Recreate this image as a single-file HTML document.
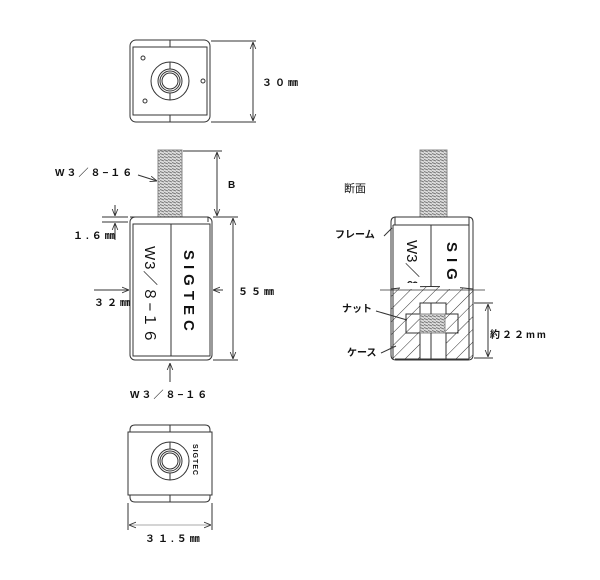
<!DOCTYPE html>
<html><head><meta charset="utf-8">
<style>
html,body{margin:0;padding:0;background:#fff;}
svg{display:block;}
text{font-family:"Liberation Sans","Noto Sans CJK JP",sans-serif;font-weight:bold;fill:#111;}
</style></head><body>
<svg width="600" height="580" viewBox="0 0 600 580" xmlns="http://www.w3.org/2000/svg">
<defs>
<pattern id="thr" width="4" height="3" patternUnits="userSpaceOnUse">
<rect width="4" height="3" fill="#ddd"/><line x1="0" y1="0.5" x2="4" y2="2" stroke="#777" stroke-width="1"/>
</pattern>
<pattern id="hat" width="9" height="9" patternUnits="userSpaceOnUse" patternTransform="rotate(45)">
<rect width="9" height="9" fill="#fff"/><line x1="0" y1="0" x2="0" y2="9" stroke="#333" stroke-width="1"/>
</pattern>
<marker id="ar" viewBox="0 0 10 10" refX="10" refY="5" markerWidth="7" markerHeight="7" orient="auto-start-reverse">
<path d="M0,1 L10,5 L0,9" fill="none" stroke="#333" stroke-width="1.2"/>
</marker>
</defs>
<g fill="none" stroke="#333" stroke-width="1">
<rect x="130" y="40" width="80" height="82" rx="6"/>
<rect x="133" y="47" width="74" height="68"/>
<line x1="170" y1="40" x2="170" y2="47"/><line x1="170" y1="115" x2="170" y2="122"/>
<circle cx="170" cy="81" r="19"/><circle cx="170" cy="81" r="12"/><circle cx="170" cy="81" r="10"/><circle cx="170" cy="81" r="8"/>
<line x1="170" y1="62" x2="170" y2="69"/><line x1="170" y1="93" x2="170" y2="100"/>
<circle cx="143" cy="58" r="2"/><circle cx="203" cy="81" r="2"/><circle cx="145" cy="101" r="2"/>
<line x1="211" y1="41" x2="256" y2="41"/><line x1="211" y1="122" x2="256" y2="122"/>
<line x1="253" y1="42" x2="253" y2="121" marker-start="url(#ar)" marker-end="url(#ar)"/>

<rect x="158" y="150" width="24" height="67" fill="url(#thr)" stroke="#888"/>
<path d="M130,222 L130,224 M130,217 L208,217 L208,222"/>
<rect x="130" y="217" width="82" height="143" rx="5"/>
<rect x="133" y="224" width="77" height="132"/>
<line x1="171" y1="224" x2="171" y2="356"/>
<line x1="183" y1="151" x2="222" y2="151"/>
<line x1="217" y1="152" x2="217" y2="216" marker-start="url(#ar)" marker-end="url(#ar)"/>
<line x1="213" y1="217" x2="238" y2="217"/><line x1="213" y1="360" x2="238" y2="360"/>
<line x1="233" y1="218" x2="233" y2="359" marker-start="url(#ar)" marker-end="url(#ar)"/>
<line x1="102" y1="217" x2="128" y2="217"/><line x1="102" y1="222" x2="128" y2="222"/>
<line x1="115" y1="205" x2="115" y2="216" marker-end="url(#ar)"/>
<line x1="115" y1="240" x2="115" y2="223" marker-end="url(#ar)"/>
<line x1="94" y1="290" x2="129" y2="290" marker-end="url(#ar)"/>
<line x1="223" y1="290" x2="213" y2="290" marker-end="url(#ar)"/>
<line x1="170" y1="382" x2="170" y2="363" marker-end="url(#ar)"/>
<line x1="138" y1="175" x2="157" y2="181" marker-end="url(#ar)"/>

<rect x="420" y="150" width="27" height="67" fill="url(#thr)" stroke="#888"/>
<path d="M395,225 L395,217 L469,217 L469,225"/>
<path d="M391,290 L391,222 Q391,217 396,217 L468,217 Q473,217 473,222 L473,290"/>
<line x1="393" y1="225" x2="469" y2="225"/><line x1="393" y1="225" x2="393" y2="290"/><line x1="469" y1="225" x2="469" y2="290"/>
<line x1="431" y1="225" x2="431" y2="290"/>
<path d="M391,289 L391,355 Q391,360 396,360 L468,360 Q473,360 473,355 L473,289 Q430,284 391,289 Z" fill="url(#hat)"/>
<rect x="420" y="303" width="26" height="56" fill="#fff"/>
<rect x="406" y="314" width="52" height="19" fill="url(#hat)"/>
<rect x="420" y="314" width="25" height="19" fill="url(#thr)" stroke="#888"/>
<line x1="431" y1="333" x2="431" y2="359"/><line x1="431" y1="303" x2="431" y2="314"/>
<line x1="395" y1="359" x2="469" y2="359"/><line x1="393" y1="289" x2="393" y2="359"/><line x1="469" y1="289" x2="469" y2="359"/>
<line x1="380" y1="290" x2="485" y2="290" stroke-width="0.8"/>
<line x1="474" y1="303" x2="493" y2="303"/><line x1="474" y1="358" x2="493" y2="358"/>
<line x1="488" y1="304" x2="488" y2="357" marker-start="url(#ar)" marker-end="url(#ar)"/>
<line x1="384" y1="236" x2="392" y2="228"/>
<line x1="376" y1="311" x2="407" y2="320"/>
<line x1="381" y1="353" x2="396" y2="346"/>

<path d="M130,432 L130,430 Q130,425 135,425 L205,425 Q210,425 210,430 L210,432"/>
<rect x="128" y="432" width="84" height="63"/>
<path d="M130,495 L130,497 Q130,502 135,502 L205,502 Q210,502 210,497 L210,495"/>
<line x1="170" y1="425" x2="170" y2="432"/><line x1="170" y1="495" x2="170" y2="502"/>
<circle cx="170" cy="461" r="19"/><circle cx="170" cy="461" r="12"/><circle cx="170" cy="461" r="10"/><circle cx="170" cy="461" r="8"/>
<line x1="170" y1="442" x2="170" y2="449"/><line x1="170" y1="473" x2="170" y2="480"/>
<line x1="128" y1="503" x2="128" y2="530"/><line x1="212" y1="503" x2="212" y2="530"/>
<line x1="129" y1="525" x2="211" y2="525" marker-start="url(#ar)" marker-end="url(#ar)" stroke="#aaa"/>
</g>
<text x="262" y="86" font-size="10" letter-spacing="3">３０㎜</text>
<text x="55" y="176" font-size="10" letter-spacing="2">W３／８−１６</text>
<text x="228" y="188" font-size="10">B</text>
<text x="73" y="239" font-size="10" letter-spacing="3">１.６㎜</text>
<text x="94" y="306" font-size="10" letter-spacing="3">３２㎜</text>
<text x="238" y="295" font-size="10" letter-spacing="3">５５㎜</text>
<text x="130" y="398" font-size="10" letter-spacing="2">W３／８−１６</text>
<text transform="translate(145,246) rotate(90)" font-size="15" style="font-weight:normal" letter-spacing="1">W3／８−１６</text>
<text transform="translate(184,250) rotate(90)" font-size="15" letter-spacing="5">SIGTEC</text>
<text x="344" y="192" font-size="11" style="font-weight:normal">断面</text>
<text transform="translate(407,240) rotate(90)" font-size="15" style="font-weight:normal">W3／８</text>
<text transform="translate(447,242) rotate(90)" font-size="15" letter-spacing="6">SIG</text>
<rect x="400" y="283" width="20" height="6" fill="#fff"/><rect x="440" y="283" width="20" height="6" fill="#fff"/>
<text x="335" y="238" font-size="10">フレーム</text>
<text x="342" y="312" font-size="10">ナット</text>
<text x="347" y="356" font-size="10">ケース</text>
<text x="490" y="338" font-size="10" letter-spacing="2">約２２mm</text>
<text transform="translate(193,444) rotate(90)" font-size="7" letter-spacing="1">SIGTEC</text>
<text x="145" y="542" font-size="10" letter-spacing="3">３１.５㎜</text>
</svg>
</body></html>
